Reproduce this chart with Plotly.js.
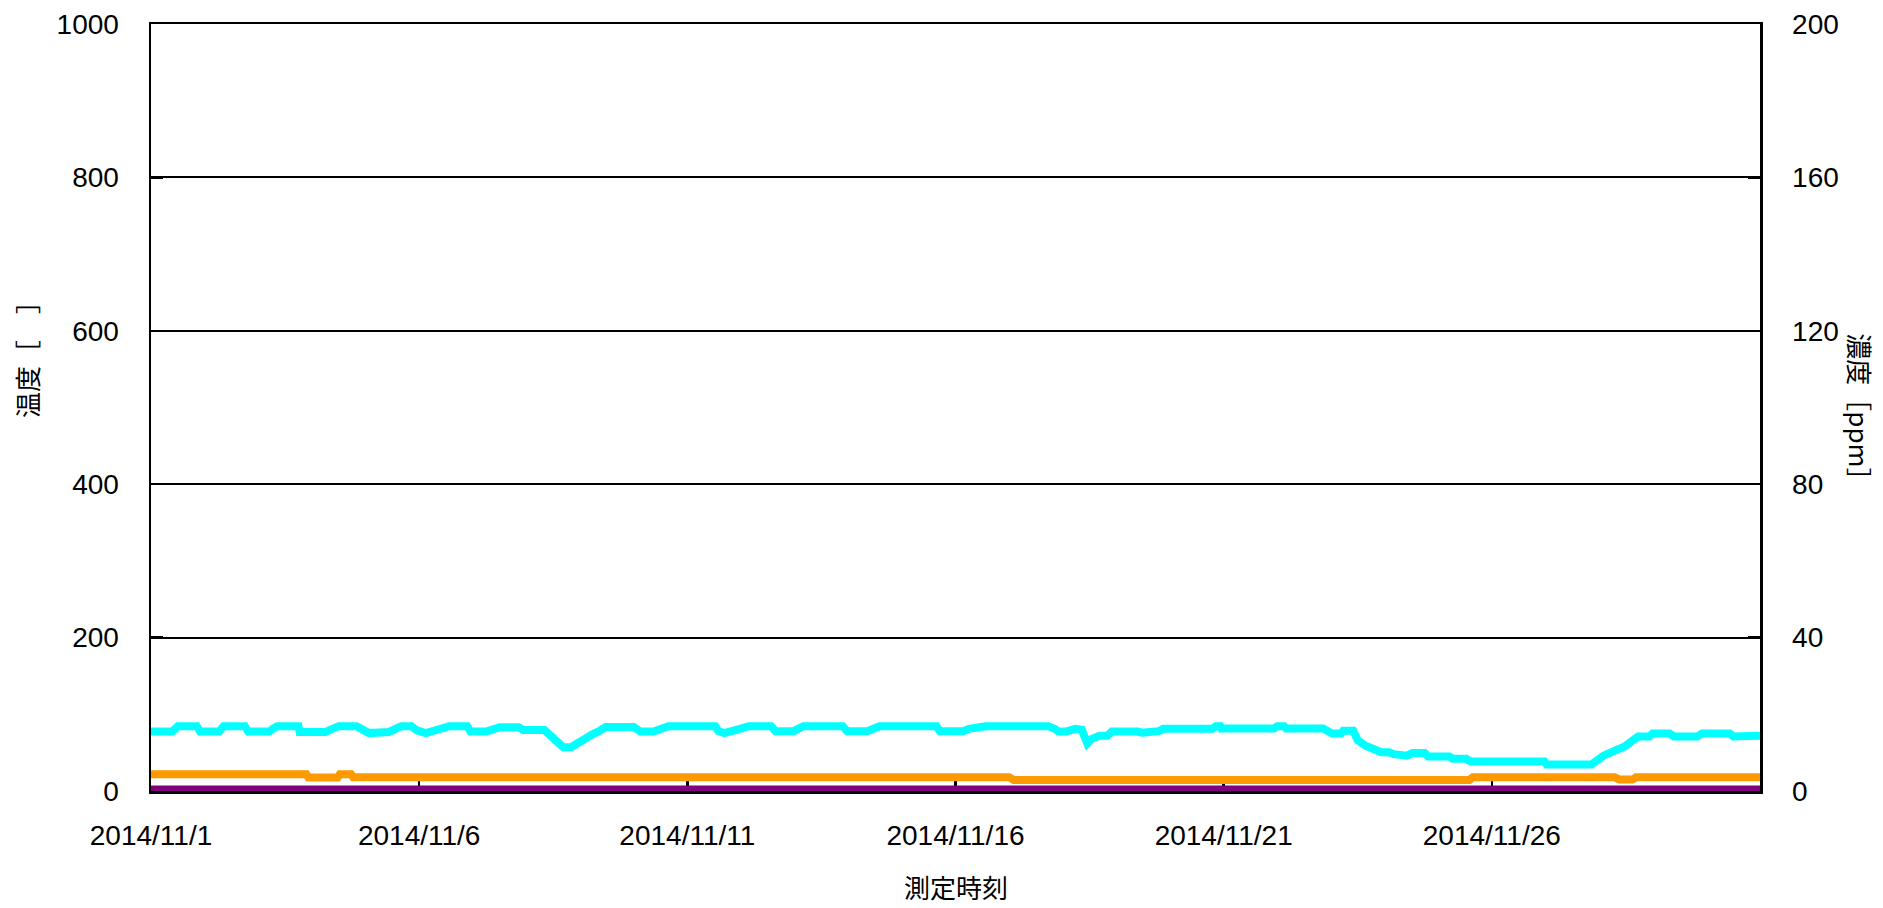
<!DOCTYPE html>
<html>
<head>
<meta charset="utf-8">
<script src="https://cdn.plot.ly/plotly-3.0.1.min.js"></script>
<style>
  html, body { margin: 0; padding: 0; background: #ffffff; }
  #chart { width: 1883px; height: 908px; }
</style>
</head>
<body>
<div id="chart"></div>
<script>
// ---- data ----
const xTickVals = ['2014-11-01', '2014-11-06', '2014-11-11', '2014-11-16', '2014-11-21', '2014-11-26'];
const xTickText = ['2014/11/1', '2014/11/6', '2014/11/11', '2014/11/16', '2014/11/21', '2014/11/26'];

// temperature (left axis) – cyan
const tempTimes = [
  '2014-11-01 00:00','2014-11-01 09:30','2014-11-01 12:00','2014-11-01 20:30','2014-11-01 22:00',
  '2014-11-02 06:30','2014-11-02 08:30','2014-11-02 18:00','2014-11-02 19:30',
  '2014-11-03 05:00','2014-11-03 06:30','2014-11-03 08:30','2014-11-03 18:00','2014-11-03 18:30',
  '2014-11-04 06:00','2014-11-04 08:30','2014-11-04 12:00','2014-11-04 20:00','2014-11-04 22:30',
  '2014-11-05 01:30','2014-11-05 10:30','2014-11-05 13:00','2014-11-05 16:00','2014-11-05 20:30','2014-11-05 23:00',
  '2014-11-06 03:00','2014-11-06 06:00','2014-11-06 09:30','2014-11-06 13:30','2014-11-06 21:30','2014-11-06 23:00',
  '2014-11-07 06:00','2014-11-07 09:00','2014-11-07 12:00','2014-11-07 20:30','2014-11-07 22:30',
  '2014-11-08 08:00','2014-11-08 11:00','2014-11-08 14:00','2014-11-08 16:30','2014-11-08 20:00','2014-11-08 23:30',
  '2014-11-09 02:30','2014-11-09 05:30','2014-11-09 08:30','2014-11-09 11:30',
  '2014-11-10 00:00','2014-11-10 03:00','2014-11-10 09:00','2014-11-10 12:00','2014-11-10 15:30',
  '2014-11-11 12:30','2014-11-11 14:00','2014-11-11 16:30','2014-11-11 21:00','2014-11-11 23:30',
  '2014-11-12 03:30','2014-11-12 13:30','2014-11-12 15:30','2014-11-12 23:30',
  '2014-11-13 01:30','2014-11-13 04:00','2014-11-13 21:30','2014-11-13 23:30',
  '2014-11-14 08:30','2014-11-14 11:00','2014-11-14 14:00',
  '2014-11-15 15:30','2014-11-15 17:00',
  '2014-11-16 03:30','2014-11-16 06:00','2014-11-16 13:30',
  '2014-11-17 17:30','2014-11-17 20:30','2014-11-17 22:00',
  '2014-11-18 01:30','2014-11-18 05:30','2014-11-18 08:30','2014-11-18 11:00','2014-11-18 13:00','2014-11-18 16:30','2014-11-18 20:00','2014-11-18 22:00',
  '2014-11-19 09:30','2014-11-19 11:30','2014-11-19 19:00','2014-11-19 21:00',
  '2014-11-20 19:00','2014-11-20 20:30','2014-11-20 22:30','2014-11-20 23:00',
  '2014-11-21 22:30','2014-11-22 00:00','2014-11-22 03:00','2014-11-22 04:00','2014-11-22 20:30','2014-11-22 22:00',
  '2014-11-23 00:30','2014-11-23 04:30','2014-11-23 05:30','2014-11-23 10:00','2014-11-23 12:00','2014-11-23 15:30','2014-11-23 20:00','2014-11-23 22:30',
  '2014-11-24 02:00','2014-11-24 04:00','2014-11-24 10:00','2014-11-24 12:30','2014-11-24 18:00','2014-11-24 19:30',
  '2014-11-25 05:00','2014-11-25 06:30','2014-11-25 12:30','2014-11-25 14:30',
  '2014-11-26 23:30','2014-11-27 00:30','2014-11-27 20:30','2014-11-27 23:00',
  '2014-11-28 02:00','2014-11-28 06:30','2014-11-28 11:30','2014-11-28 15:00','2014-11-28 17:30','2014-11-28 22:30',
  '2014-11-29 00:00','2014-11-29 07:30','2014-11-29 09:30','2014-11-29 20:00','2014-11-29 22:00',
  '2014-11-30 10:30','2014-11-30 12:00','2014-12-01 00:00'
];
const tempValues = [
  77.5,77.5,84.5,84.5,77.5,
  77.5,84.5,84.5,77.5,
  77.5,81,84.5,84.5,77,
  77,81,84.5,84.5,79,
  75.5,77,81,84.5,84.5,79,
  75.5,78,81,84.5,84.5,77.5,
  77.5,80,83,83,79.5,
  79.5,72,65,57,57,64,
  70,74,78,83.5,
  83.5,77.5,77.5,81,84.5,
  84.5,78,75.5,78,81,
  84.5,84.5,78,78,
  81,84.5,84.5,78,
  78,81,84.5,
  84.5,78,
  78,81,84.5,
  84.5,81,77.5,
  77.5,81,80,62,68,72,72,77.5,
  77.5,76,78,81,
  81,84.5,84.5,81.5,
  81.5,84.5,84.5,81.5,81.5,78.5,
  75,75,78.5,78.5,66,59,55,50.5,
  50.5,48,46,49.5,49.5,45,
  45,42,42,38.5,
  38.5,34.5,34.5,40,
  46,52,58,66,71,71,
  75,75,71,71,75,
  75,71,72
];

// concentration (right axis) – orange
const concATimes = [
  '2014-11-01 00:00','2014-11-01 08:00','2014-11-01 08:30','2014-11-01 11:00','2014-11-01 11:30',
  '2014-11-03 21:30','2014-11-03 22:30','2014-11-04 11:30','2014-11-04 12:30','2014-11-04 17:30','2014-11-04 18:30',
  '2014-11-17 00:00','2014-11-17 02:00',
  '2014-11-25 09:00','2014-11-25 09:30','2014-11-25 10:30','2014-11-25 13:00','2014-11-25 14:00','2014-11-25 15:30',
  '2014-11-28 07:00','2014-11-28 09:00','2014-11-28 15:00','2014-11-28 16:30','2014-12-01 00:00'
];
const concAValues = [
  4.4,4.4,4.1,4.1,4.4,
  4.4,3.5,3.5,4.4,4.4,3.6,
  3.6,2.9,
  2.9,3.4,2.9,3.4,2.9,3.6,
  3.6,3.0,3.0,3.6,3.6
];

// concentration (right axis) – purple
const concBTimes = ['2014-11-01 00:00','2014-11-10 00:00','2014-11-20 00:00','2014-12-01 00:00'];
const concBValues = [0.4, 0.4, 0.4, 0.4];

// ---- chart ----
const numFont = {family: '"Liberation Sans", Arial, sans-serif', size: 28, color: '#000000'};
const cjkFont = {family: '"Noto Sans CJK JP", "Noto Sans CJK SC", sans-serif', size: 26, color: '#000000'};

const traces = [
  {x: tempTimes, y: tempValues, type: 'scatter', mode: 'lines', yaxis: 'y', name: '温度',
   line: {color: '#00FFFF', width: 8}, cliponaxis: false},
  {x: concATimes, y: concAValues, type: 'scatter', mode: 'lines', yaxis: 'y2', name: '濃度A',
   line: {color: '#FF9900', width: 8}, cliponaxis: false},
  {x: concBTimes, y: concBValues, type: 'scatter', mode: 'lines', yaxis: 'y2', name: '濃度B',
   line: {color: '#800080', width: 8}, cliponaxis: false}
];

const layout = {
  width: 1883, height: 908,
  margin: {l: 151, r: 123, t: 24, b: 117},
  paper_bgcolor: '#ffffff', plot_bgcolor: '#ffffff',
  showlegend: false,
  xaxis: {
    type: 'date', range: ['2014-11-01 00:00', '2014-12-01 00:00'],
    tickmode: 'array', tickvals: xTickVals, ticktext: xTickText,
    ticks: 'inside', ticklen: 10, tickwidth: 2.5, tickcolor: '#000000',
    showline: true, linecolor: '#000000', linewidth: 2.5, mirror: true,
    showgrid: false, zeroline: false, tickfont: numFont,
    ticklabelstandoff: 18, layer: 'below traces'
  },
  yaxis: {
    range: [0, 1000], tickmode: 'array', tickvals: [0, 200, 400, 600, 800, 1000],
    ticks: 'inside', ticklen: 12, tickwidth: 2.5, tickcolor: '#000000',
    showline: true, linecolor: '#000000', linewidth: 2.5,
    showgrid: true, gridcolor: '#000000', gridwidth: 2, zeroline: false,
    tickfont: numFont, ticklabelstandoff: 24
  },
  yaxis2: {
    range: [0, 200], tickmode: 'array', tickvals: [0, 40, 80, 120, 160, 200],
    overlaying: 'y', side: 'right',
    ticks: 'inside', ticklen: 12, tickwidth: 2.5, tickcolor: '#000000',
    showline: true, linecolor: '#000000', linewidth: 2.5,
    showgrid: false, zeroline: false,
    tickfont: numFont, ticklabelstandoff: 24
  },
  annotations: [
    {text: '測定時刻', xref: 'paper', yref: 'paper', x: 0.5, y: -0.125,
     xanchor: 'center', yanchor: 'middle', showarrow: false, font: cjkFont},
    {text: '温度［　］', xref: 'paper', yref: 'paper', x: -0.0777, y: 0.571,
     xanchor: 'center', yanchor: 'middle', showarrow: false, textangle: -90, font: cjkFont},
    {text: '濃度［ppm］', xref: 'paper', yref: 'paper', x: 1.0625, y: 0.493,
     xanchor: 'center', yanchor: 'middle', showarrow: false, textangle: 90, font: cjkFont}
  ]
};

Plotly.newPlot('chart', traces, layout, {displayModeBar: false, staticPlot: true});
</script>
</body>
</html>
